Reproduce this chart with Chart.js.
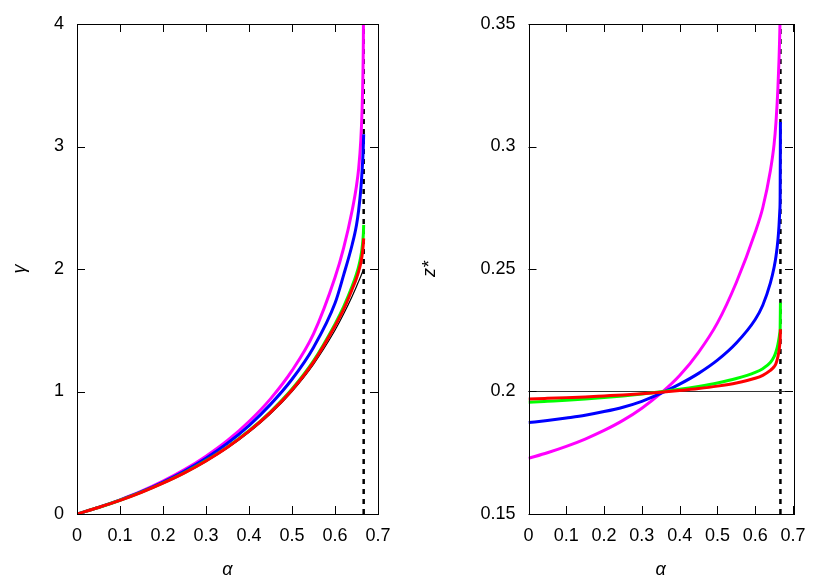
<!DOCTYPE html>
<html>
<head>
<meta charset="utf-8">
<script src="https://cdn.jsdelivr.net/npm/chart.js@4/dist/chart.umd.min.js"></script>
<style>
    html, body { margin: 0; padding: 0; background: #fff; }
    #wrap { position: relative; width: 830px; height: 581px; }
    canvas { position: absolute; top: 0; }
</style>
</head>
<body>
<div id="wrap">
    <canvas id="gammaChart" width="415" height="581" style="left:0"></canvas>
    <canvas id="zChart" width="415" height="581" style="left:415px"></canvas>
</div>
<script>
/* ================= DATA ================= */

const alphaC = 0.6667;

const alphaPts = [0, 0.05, 0.1, 0.15, 0.2, 0.25, 0.3, 0.35, 0.4, 0.45, 0.5, 0.55,
                  0.6, 0.62, 0.64, 0.65, 0.655, 0.66, 0.663, 0.665, 0.666, 0.6667];

// left panel: gamma
const gammaBlack   = [0, 0.053, 0.111, 0.176, 0.25, 0.333, 0.429, 0.538, 0.667, 0.818, 1.0, 1.222,
                      1.5, 1.632, 1.778, 1.857, 1.899, 1.941, 1.967, 1.985, 1.994, 2.0];
const gammaMagenta = [0, 0.054, 0.116, 0.186, 0.268, 0.362, 0.472, 0.6, 0.755, 0.94, 1.17, 1.47,
                      1.93, 2.17, 2.48, 2.68, 2.82, 3.05, 3.3, 3.6, 3.9, 4.5];
const gammaBlue    = [0, 0.054, 0.114, 0.182, 0.261, 0.351, 0.455, 0.577, 0.722, 0.895, 1.1, 1.36,
                      1.72, 1.95, 2.2, 2.36, 2.48, 2.65, 2.8, 2.93, 3.02, 3.10];
const gammaGreen   = [0, 0.053, 0.112, 0.178, 0.253, 0.338, 0.436, 0.548, 0.68, 0.835, 1.02, 1.25,
                      1.55, 1.69, 1.86, 1.96, 2.02, 2.10, 2.17, 2.24, 2.29, 2.36];
const gammaRed     = [0, 0.053, 0.111, 0.177, 0.252, 0.336, 0.433, 0.545, 0.676, 0.83, 1.013, 1.24,
                      1.535, 1.67, 1.835, 1.925, 1.98, 2.05, 2.11, 2.17, 2.21, 2.25];

// right panel: z*
const zMagenta = [0.1727, 0.175, 0.1776, 0.1806, 0.1841, 0.1882, 0.1932, 0.1992, 0.2065, 0.216, 0.228, 0.2445,
                  0.265, 0.275, 0.29, 0.301, 0.31, 0.3235, 0.3355, 0.3465, 0.356, 0.375];
const zBlue    = [0.1873, 0.1882, 0.1892, 0.1903, 0.1918, 0.1936, 0.196, 0.1992, 0.203, 0.2074, 0.2128, 0.2198,
                  0.2294, 0.2352, 0.2442, 0.2507, 0.2552, 0.2617, 0.2677, 0.2737, 0.2797, 0.31];
const zGreen   = [0.1956, 0.196, 0.1964, 0.1969, 0.1975, 0.1982, 0.199, 0.1999, 0.2009, 0.2021, 0.2035, 0.2053,
                  0.2078, 0.2093, 0.2118, 0.2142, 0.2162, 0.2192, 0.2217, 0.2239, 0.2256, 0.2362];
const zRed     = [0.1969, 0.1972, 0.1975, 0.1978, 0.1982, 0.1986, 0.1991, 0.1997, 0.2004, 0.2012, 0.2022, 0.2035,
                  0.2054, 0.2066, 0.2086, 0.2101, 0.2114, 0.2142, 0.2166, 0.2192, 0.2212, 0.2254];

const zRefAlpha = [0, 0.7];
const zRefVals  = [0.2, 0.2];

// ticks
const xTicks     = [0, 0.1, 0.2, 0.3, 0.4, 0.5, 0.6, 0.7];
const gammaTicks = [0, 1, 2, 3, 4];
const zTicks     = [0.15, 0.2, 0.25, 0.3, 0.35];

/* ================= HELPERS ================= */

const FONT = "'Liberation Sans', Arial, Helvetica, sans-serif";

function pts(xs, ys) {
    return xs.map((x, i) => ({ x: x, y: ys[i] }));
}

function curve(xs, ys, color, width, order) {
    return {
        data: pts(xs, ys),
        showLine: true,
        borderColor: color,
        borderWidth: width,
        pointRadius: 0,
        cubicInterpolationMode: "monotone",
        clip: 0,
        order: order
    };
}

function dashed(yMin, yMax) {
    return {
        data: pts([alphaC, alphaC], [yMin, yMax]),
        showLine: true,
        borderColor: "#000",
        borderWidth: 2.5,
        borderDash: [5, 5],
        pointRadius: 0,
        clip: 0,
        order: 10
    };
}

// gnuplot-like frame with inward ticks on all four sides
const frameTicks = {
    id: "frameTicks",
    afterDraw(chart) {
        const { ctx, chartArea: a, scales } = chart;
        const x = scales.x, y = scales.y;
        const len = 8;
        ctx.save();
        ctx.strokeStyle = "#000";
        ctx.lineWidth = 1;
        ctx.beginPath();
        x.ticks.forEach(t => {
            const px = Math.round(x.getPixelForValue(t.value)) + 0.5;
            ctx.moveTo(px, a.bottom); ctx.lineTo(px, a.bottom - len);
            ctx.moveTo(px, a.top);    ctx.lineTo(px, a.top + len);
        });
        y.ticks.forEach(t => {
            const py = Math.round(y.getPixelForValue(t.value)) + 0.5;
            ctx.moveTo(a.left, py);  ctx.lineTo(a.left + len, py);
            ctx.moveTo(a.right, py); ctx.lineTo(a.right - len, py);
        });
        ctx.stroke();
        ctx.strokeRect(Math.round(a.left) + 0.5, Math.round(a.top) + 0.5,
                       Math.round(a.right - a.left), Math.round(a.bottom - a.top));
        ctx.restore();
    }
};

function makeOptions(yMin, yMax, yTickVals, yTitle, yAxisWidth, yTitlePad) {
    return {
        responsive: false,
        animation: false,
        devicePixelRatio: 1,
        layout: { padding: { top: 24, right: 37, bottom: 0, left: 0 } },
        plugins: { legend: { display: false }, tooltip: { enabled: false } },
        scales: {
            x: {
                type: "linear",
                min: 0,
                max: 0.7,
                grid: { display: false, drawTicks: false },
                border: { display: false },
                afterBuildTicks: s => { s.ticks = xTicks.map(v => ({ value: v })); },
                afterFit: s => { s.height = 67; },
                ticks: {
                    autoSkip: false,
                    maxRotation: 0,
                    padding: 11,
                    color: "#000",
                    font: { family: FONT, size: 18 },
                    callback: v => String(v)
                },
                title: {
                    display: true,
                    text: "α",
                    color: "#000",
                    padding: { top: 0, bottom: 0 },
                    font: { family: FONT, size: 18, style: "italic" }
                }
            },
            y: {
                type: "linear",
                min: yMin,
                max: yMax,
                grid: { display: false, drawTicks: false },
                border: { display: false },
                afterBuildTicks: s => { s.ticks = yTickVals.map(v => ({ value: v })); },
                afterFit: s => { s.width = yAxisWidth; },
                ticks: {
                    autoSkip: false,
                    padding: 13,
                    color: "#000",
                    font: { family: FONT, size: 18 },
                    callback: v => String(v)
                },
                title: {
                    display: true,
                    text: yTitle,
                    color: "#000",
                    padding: { top: yTitlePad, bottom: 0 },
                    font: { family: FONT, size: 18, style: "italic" }
                }
            }
        }
    };
}

/* ================= LEFT: GAMMA ================= */

new Chart(document.getElementById("gammaChart"), {
    type: "scatter",
    data: {
        datasets: [
            dashed(0, 4),
            curve(alphaPts, gammaBlack, "#000", 1.2, 6),
            curve(alphaPts, gammaMagenta, "#ff00ff", 3, 5),
            curve(alphaPts, gammaBlue, "#0000ff", 3, 4),
            curve(alphaPts, gammaGreen, "#00ff00", 3, 3),
            curve(alphaPts, gammaRed, "#ff0000", 3, 2)
        ]
    },
    options: makeOptions(0, 4, gammaTicks, "γ", 77, 9),
    plugins: [frameTicks]
});

/* ================= RIGHT: Z* ================= */

new Chart(document.getElementById("zChart"), {
    type: "scatter",
    data: {
        datasets: [
            dashed(0.15, 0.35),
            curve(zRefAlpha, zRefVals, "#333", 1.2, 6),
            curve(alphaPts, zMagenta, "#ff00ff", 3, 5),
            curve(alphaPts, zBlue, "#0000ff", 3, 4),
            curve(alphaPts, zGreen, "#00ff00", 3, 3),
            curve(alphaPts, zRed, "#ff0000", 3, 2)
        ]
    },
    options: makeOptions(0.15, 0.35, zTicks, "z*", 113.5, 4),
    plugins: [frameTicks]
});
</script>
</body>
</html>
